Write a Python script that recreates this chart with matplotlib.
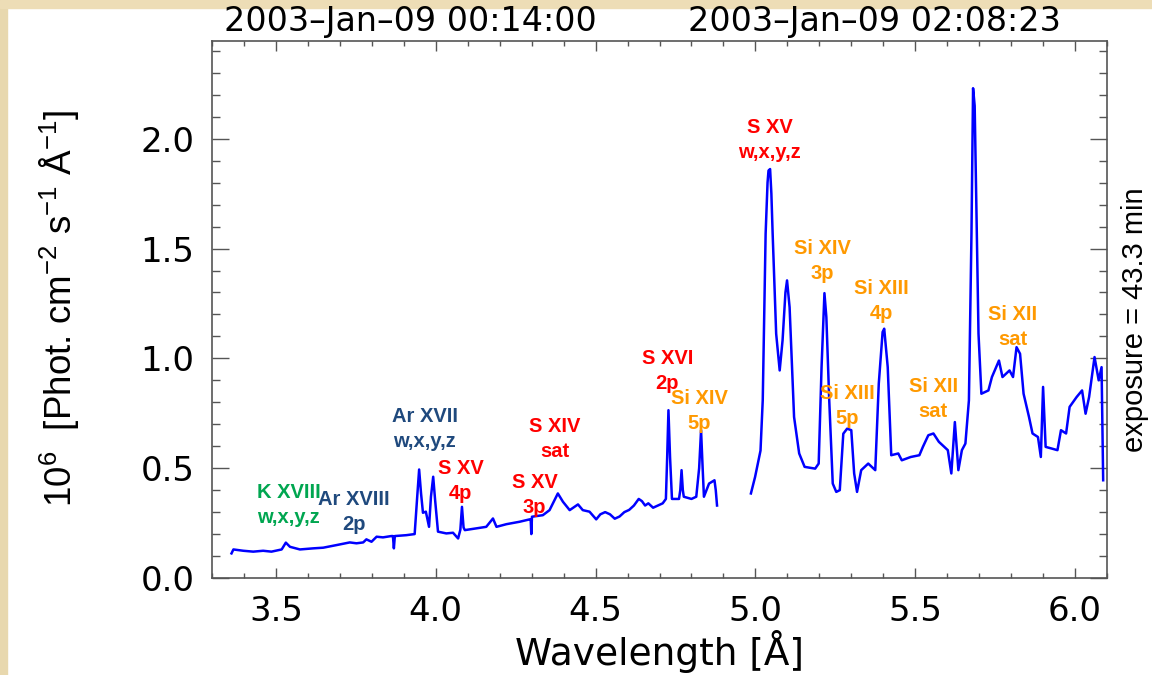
import matplotlib.pyplot as plt
from matplotlib.patches import Rectangle
from matplotlib.ticker import MultipleLocator

plt.rcParams['font.family'] = ['Liberation Sans', 'DejaVu Sans']
plt.rcParams['mathtext.default'] = 'regular'

# spectrum, first channel (short wavelengths)
wave1 = [3.361, 3.367, 3.398, 3.429, 3.46, 3.486, 3.518, 3.531, 3.544, 3.575,
         3.617, 3.648, 3.69, 3.731, 3.752, 3.773, 3.783, 3.799, 3.815, 3.835,
         3.861, 3.866, 3.869, 3.872, 3.908, 3.934, 3.942, 3.948, 3.954, 3.96,
         3.969, 3.979, 3.985, 3.992, 3.998, 4.007, 4.033, 4.054, 4.07, 4.077,
         4.082, 4.087, 4.091, 4.127, 4.158, 4.179, 4.19, 4.221, 4.262, 4.294,
         4.297, 4.299, 4.301, 4.335, 4.356, 4.382, 4.398, 4.419, 4.445, 4.46,
         4.481, 4.502, 4.515, 4.53, 4.545, 4.56, 4.575, 4.59, 4.605, 4.62,
         4.635, 4.645, 4.655, 4.665, 4.68, 4.695, 4.71, 4.72, 4.724, 4.728,
         4.733, 4.739, 4.761, 4.765, 4.769, 4.773, 4.776, 4.80, 4.815, 4.824,
         4.830, 4.835, 4.839, 4.855, 4.872, 4.876, 4.880]
flux1 = [0.112, 0.130, 0.124, 0.120, 0.124, 0.120, 0.130, 0.161, 0.142, 0.130,
         0.135, 0.138, 0.150, 0.162, 0.158, 0.162, 0.176, 0.165, 0.188, 0.185,
         0.191, 0.191, 0.135, 0.191, 0.195, 0.200, 0.370, 0.494, 0.385, 0.297,
         0.302, 0.233, 0.370, 0.461, 0.355, 0.211, 0.203, 0.206, 0.180, 0.220,
         0.324, 0.230, 0.218, 0.226, 0.233, 0.271, 0.233, 0.245, 0.256, 0.267,
         0.267, 0.200, 0.279, 0.286, 0.309, 0.385, 0.347, 0.309, 0.335, 0.309,
         0.302, 0.267, 0.290, 0.300, 0.290, 0.270, 0.280, 0.300, 0.310, 0.330,
         0.360, 0.350, 0.330, 0.340, 0.320, 0.330, 0.340, 0.360, 0.550, 0.764,
         0.550, 0.360, 0.360, 0.400, 0.491, 0.400, 0.370, 0.360, 0.370, 0.500,
         0.673, 0.500, 0.370, 0.430, 0.445, 0.400, 0.330]

# spectrum, second channel (long wavelengths)
wave2 = [4.986, 4.999, 5.016, 5.023, 5.032, 5.038, 5.041, 5.046, 5.050, 5.054,
         5.065, 5.076, 5.085, 5.094, 5.099, 5.107, 5.121, 5.137, 5.154, 5.187,
         5.198, 5.207, 5.216, 5.222, 5.231, 5.242, 5.253, 5.264, 5.275, 5.287,
         5.300, 5.309, 5.318, 5.331, 5.353, 5.364, 5.375, 5.386, 5.398, 5.403,
         5.414, 5.425, 5.447, 5.458, 5.486, 5.513, 5.524, 5.541, 5.557, 5.574,
         5.591, 5.602, 5.613, 5.624, 5.635, 5.646, 5.657, 5.668, 5.676, 5.681,
         5.686, 5.691, 5.698, 5.707, 5.729, 5.740, 5.762, 5.773, 5.795, 5.806,
         5.817, 5.828, 5.839, 5.856, 5.867, 5.884, 5.893, 5.900, 5.908, 5.928,
         5.945, 5.956, 5.972, 5.983, 6.005, 6.022, 6.033, 6.044, 6.061, 6.074,
         6.083, 6.088]
flux2 = [0.385, 0.460, 0.580, 0.810, 1.567, 1.800, 1.855, 1.862, 1.750, 1.567,
         1.112, 0.945, 1.082, 1.300, 1.355, 1.233, 0.733, 0.567, 0.506, 0.498,
         0.521, 0.960, 1.297, 1.188, 0.809, 0.430, 0.392, 0.400, 0.657, 0.680,
         0.673, 0.476, 0.392, 0.491, 0.521, 0.506, 0.491, 0.885, 1.120, 1.135,
         0.960, 0.559, 0.567, 0.536, 0.551, 0.559, 0.597, 0.650, 0.658, 0.620,
         0.597, 0.582, 0.476, 0.710, 0.491, 0.582, 0.612, 0.809, 1.567, 2.230,
         2.150, 1.720, 1.112, 0.839, 0.854, 0.915, 0.990, 0.915, 0.945, 0.915,
         1.051, 1.021, 0.839, 0.733, 0.658, 0.642, 0.551, 0.870, 0.597, 0.589,
         0.582, 0.673, 0.658, 0.779, 0.824, 0.854, 0.748, 0.824, 1.006, 0.900,
         0.960, 0.445]

# line identifications
line_names = ['K XVIII\nw,x,y,z', 'Ar XVIII\n2p', 'Ar XVII\nw,x,y,z', 'S XV\n4p',
              'S XV\n3p', 'S XIV\nsat', 'S XVI\n2p', 'Si XIV\n5p', 'S XV\nw,x,y,z',
              'Si XIV\n3p', 'Si XIII\n5p', 'Si XIII\n4p', 'Si XII\nsat', 'Si XII\nsat']
line_x = [3.540, 3.745, 3.966, 4.078, 4.309, 4.372, 4.725, 4.825, 5.044,
          5.209, 5.2875, 5.394, 5.556, 5.806]
line_y = [0.334, 0.302, 0.68, 0.443, 0.38, 0.632, 0.941, 0.759, 1.995,
          1.443, 0.784, 1.261, 0.814, 1.141]
line_col = ['#00A650', '#1F497D', '#1F497D', '#FF0000', '#FF0000', '#FF0000',
            '#FF0000', '#FF9900', '#FF0000', '#FF9900', '#FF9900', '#FF9900',
            '#FF9900', '#FF9900']

W, H = 1152, 675
fig = plt.figure(figsize=(W / 100, H / 100), dpi=100)
fig.patch.set_facecolor('white')
# beige slide border on the left and top
fig.patches.append(Rectangle((0, 0), 7 / W, 1, transform=fig.transFigure,
                             color='#E8D8AE', zorder=0))
fig.patches.append(Rectangle((0, 1 - 8 / H), 1, 8 / H, transform=fig.transFigure,
                             color='#EDDDB6', zorder=0))

ax = fig.add_axes([212 / W, 1 - 578 / H, (1107 - 212) / W, (578 - 41) / H])

ax.plot(wave1, flux1, color='#0000FF', lw=1.8)
ax.plot(wave2, flux2, color='#0000FF', lw=1.8)

for name, x, y, c in zip(line_names, line_x, line_y, line_col):
    ax.text(x, y, name, color=c, ha='center', va='center', fontsize=14.5,
            fontweight='bold', linespacing=1.4)

ax.set_xlim(3.3, 6.1)
ax.set_ylim(0, 2.445)
ax.xaxis.set_major_locator(MultipleLocator(0.5))
ax.xaxis.set_minor_locator(MultipleLocator(0.1))
ax.yaxis.set_major_locator(MultipleLocator(0.5))
ax.yaxis.set_minor_locator(MultipleLocator(0.1))
ax.xaxis.set_major_formatter(lambda v, p: f'{v:.1f}')
ax.yaxis.set_major_formatter(lambda v, p: f'{v:.1f}')

ax.tick_params(which='both', direction='in', top=True, right=True, color='#555555', width=1)
ax.tick_params(axis='x', which='major', length=7, pad=12)
ax.tick_params(axis='x', which='minor', length=3.6)
ax.tick_params(axis='y', which='major', length=12, pad=12.5)
ax.tick_params(axis='y', which='minor', length=6)
for lab in ax.get_xticklabels() + ax.get_yticklabels():
    lab.set_family('DejaVu Sans')
    lab.set_fontsize(24.5)
for s in ax.spines.values():
    s.set_color('#555555')
    s.set_linewidth(1.2)

ax.set_xlabel('Wavelength [Å]', fontsize=27, family='DejaVu Sans')
ax.xaxis.set_label_coords(0.5, (578 - 665) / 537)
ax.xaxis.label.set_verticalalignment('baseline')

ax.set_ylabel(r'$10^6$  [Phot. cm$^{-2}$ s$^{-1}$ Å$^{-1}$]', fontsize=26.5)
ax.yaxis.set_label_coords((59.5 - 212) / 895, (578 - 308) / 537)
ax.yaxis.label.set_rotation_mode('anchor')
ax.yaxis.label.set_verticalalignment('center')
ax.yaxis.label.set_horizontalalignment('center')

fig.text(224 / W, 1 - 21 / H, '2003–Jan–09 00:14:00', fontsize=24,
         family='DejaVu Sans', va='center')
fig.text(688 / W, 1 - 21 / H, '2003–Jan–09 02:08:23', fontsize=24,
         family='DejaVu Sans', va='center')
fig.text(1135 / W, 1 - 320 / H, 'exposure = 43.3 min', fontsize=21, rotation=90,
         ha='center', va='center')

plt.savefig('out.png', dpi=100)
